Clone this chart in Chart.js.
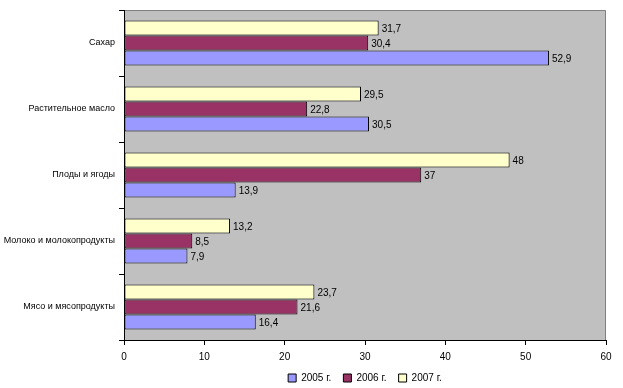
<!DOCTYPE html>
<html>
<head>
<meta charset="utf-8">
<script src="https://cdn.jsdelivr.net/npm/chart.js@4.4.1/dist/chart.umd.min.js"></script>
<style>
  body { margin: 0; background: #fff; }
  #wrap { width: 623px; height: 388px; }
</style>
</head>
<body>
<div id="wrap"><canvas id="chart" width="623" height="388"></canvas></div>
<script>
const categories = ['Сахар', 'Растительное масло', 'Плоды и ягоды', 'Молоко и молокопродукты', 'Мясо и мясопродукты'];
const values2005 = [52.9, 30.5, 13.9, 7.9, 16.4];
const values2006 = [30.4, 22.8, 37, 8.5, 21.6];
const values2007 = [31.7, 29.5, 48, 13.2, 23.7];
const seriesNames = ['2005 г.', '2006 г.', '2007 г.'];
const xTicks = [0, 10, 20, 30, 40, 50, 60];

const FONT = "Arial, 'Liberation Sans', sans-serif";

// plot area fill + gray frame on top/right
const plotBg = {
    id: 'plotBg',
    beforeDraw(chart) {
        const { ctx, chartArea: { left, top, right, bottom } } = chart;
        ctx.save();
        ctx.fillStyle = '#c0c0c0';
        ctx.fillRect(left, top, right - left, bottom - top);
        ctx.strokeStyle = '#808080';
        ctx.lineWidth = 1;
        ctx.beginPath();
        ctx.moveTo(left, top + 0.5);
        ctx.lineTo(right - 0.5, top + 0.5);
        ctx.lineTo(right - 0.5, bottom);
        ctx.stroke();
        ctx.restore();
    }
};

// value labels to the right of each bar
const valueLabels = {
    id: 'valueLabels',
    afterDatasetsDraw(chart) {
        const ctx = chart.ctx;
        ctx.save();
        ctx.font = '10px ' + FONT;
        ctx.fillStyle = '#000';
        ctx.textBaseline = 'middle';
        ctx.textAlign = 'left';
        chart.data.datasets.forEach((ds, i) => {
            const meta = chart.getDatasetMeta(i);
            meta.data.forEach((bar, j) => {
                const txt = String(ds.data[j]).replace('.', ',');
                ctx.fillText(txt, bar.x + 3, bar.y + 1);
            });
        });
        ctx.restore();
    }
};

const colors = ['#9999ff', '#993366', '#ffffcc'];
const allValues = [values2005, values2006, values2007];

// 2007 on top inside each group, so datasets go in reverse; legend reversed back
const datasets = [2, 1, 0].map(i => ({
    label: seriesNames[i],
    data: allValues[i],
    backgroundColor: colors[i],
    borderColor: '#000',
    borderWidth: 1,
    borderSkipped: false,
    categoryPercentage: 0.68,
    barPercentage: 1.0
}));

new Chart(document.getElementById('chart').getContext('2d'), {
    type: 'bar',
    data: { labels: categories, datasets: datasets },
    options: {
        indexAxis: 'y',
        responsive: false,
        animation: false,
        layout: { padding: { top: 10, right: 17, left: 0, bottom: -5 } },
        plugins: {
            legend: {
                position: 'bottom',
                fullSize: false,
                reverse: true,
                labels: {
                    boxWidth: 8,
                    boxHeight: 8,
                    padding: 12,
                    color: '#000',
                    font: { family: FONT, size: 10 }
                }
            },
            tooltip: { enabled: false }
        },
        scales: {
            x: {
                min: 0,
                max: 60,
                afterBuildTicks: scale => { scale.ticks = xTicks.map(v => ({ value: v })); },
                afterFit: scale => { scale.height = 21; },
                ticks: { color: '#000', font: { family: FONT, size: 10 }, padding: 6 },
                grid: { drawOnChartArea: false, tickLength: 5, color: '#000' },
                border: { color: '#000' }
            },
            y: {
                afterFit: scale => { scale.width = 124; },
                ticks: { color: '#000', font: { family: FONT, size: 9 }, padding: 4 },
                grid: { drawOnChartArea: false, tickLength: 5, color: '#000', offset: true },
                border: { color: '#000' }
            }
        }
    },
    plugins: [plotBg, valueLabels]
});
</script>
</body>
</html>
